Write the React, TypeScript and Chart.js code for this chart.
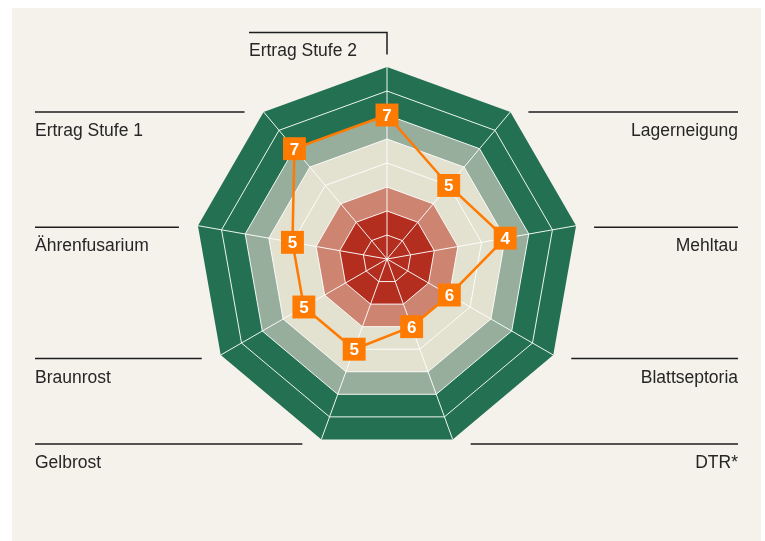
import React, { useEffect, useRef } from 'react';
import { Chart, registerables } from 'chart.js';

Chart.register(...registerables);

// ---- data ----
const categories = [
  'Ertrag Stufe 2',
  'Lagerneigung',
  'Mehltau',
  'Blattseptoria',
  'DTR*',
  'Gelbrost',
  'Braunrost',
  'Ährenfusarium',
  'Ertrag Stufe 1',
];
// scores printed in the squares
const scores = [7, 5, 4, 6, 6, 5, 5, 5, 7];
// disease / lodging axes are plotted inverted (low score = far out)
const invertedAxis = [false, true, true, true, true, true, true, true, false];
const scaleMin = 1;
const scaleMax = 9;
const ringLevels = [2, 3, 4, 5, 6, 7, 8];
const bandLevels = [3, 4, 6, 7, 9];
const bandColors = ['#B42E20', '#CD8571', '#E3E1CF', '#97AE9D', '#237152'];

const plotted = scores.map((v, i) => (invertedAxis[i] ? scaleMax + scaleMin - v : v));

// vertical nudge of the label rules relative to the outer vertex
const labelRuleNudge = [0, 0, 1.5, 3.5, 4.5, 4.5, 3.5, 1.5, 0];

const FONT = '"Liberation Sans", Arial, Helvetica, sans-serif';

const gridPlugin = {
  id: 'gridOverlay',
  beforeDatasetDraw(chart: any, args: any) {
    if (args.index !== 0) return;
    const r = chart.scales.r;
    const ctx = chart.ctx;
    const n = chart.data.labels.length;
    ctx.save();
    ctx.strokeStyle = 'rgba(255,255,255,0.92)';
    ctx.lineWidth = 1;
    ringLevels.forEach((level) => {
      ctx.beginPath();
      for (let i = 0; i < n; i++) {
        const p = r.getPointPositionForValue(i, level);
        if (i === 0) ctx.moveTo(p.x, p.y);
        else ctx.lineTo(p.x, p.y);
      }
      ctx.closePath();
      ctx.stroke();
    });
    for (let i = 0; i < n; i++) {
      const p = r.getPointPositionForValue(i, scaleMax);
      ctx.beginPath();
      ctx.moveTo(r.xCenter, r.yCenter);
      ctx.lineTo(p.x, p.y);
      ctx.stroke();
    }
    ctx.restore();
  },
};

const labelPlugin = {
  id: 'labelsOverlay',
  afterDatasetsDraw(chart: any) {
    const ctx = chart.ctx;
    const r = chart.scales.r;
    const meta = chart.getDatasetMeta(0);
    ctx.save();
    // numbers in squares
    ctx.fillStyle = '#FFFFFF';
    ctx.font = `bold 17px ${FONT}`;
    ctx.textAlign = 'center';
    ctx.textBaseline = 'alphabetic';
    meta.data.forEach((pt: any, i: number) => {
      ctx.fillText(String(scores[i]), pt.x, pt.y + 6);
    });

    // axis labels with rules
    ctx.strokeStyle = '#1E1E1E';
    ctx.fillStyle = '#262626';
    ctx.lineWidth = 1.5;
    ctx.font = `17.5px ${FONT}`;
    const leftX = 35;
    const rightX = 738;
    categories.forEach((label, i) => {
      const p = r.getPointPositionForValue(i, scaleMax);
      if (i === 0) {
        const ly = p.y - 34.5;
        const x0 = p.x - 138;
        ctx.beginPath();
        ctx.moveTo(x0, ly);
        ctx.lineTo(p.x, ly);
        ctx.lineTo(p.x, ly + 22);
        ctx.stroke();
        ctx.textAlign = 'left';
        ctx.fillText(label, x0, ly + 23);
      } else if (p.x > r.xCenter) {
        const ly = p.y + labelRuleNudge[i];
        ctx.beginPath();
        ctx.moveTo(p.x + 18, ly);
        ctx.lineTo(rightX, ly);
        ctx.stroke();
        ctx.textAlign = 'right';
        ctx.fillText(label, rightX, ly + 24);
      } else {
        const ly = p.y + labelRuleNudge[i];
        ctx.beginPath();
        ctx.moveTo(leftX, ly);
        ctx.lineTo(p.x - 19, ly);
        ctx.stroke();
        ctx.textAlign = 'left';
        ctx.fillText(label, leftX, ly + 24);
      }
    });
    ctx.restore();
  },
};

export default function App() {
  const canvasRef = useRef<HTMLCanvasElement | null>(null);

  useEffect(() => {
    if (!canvasRef.current) return;
    const bandDatasets = bandLevels.map((level, k) => ({
      label: `band${level}`,
      data: categories.map(() => level),
      backgroundColor: bandColors[k],
      borderWidth: 0,
      pointRadius: 0,
      fill: 'start',
    }));
    const chart = new Chart(canvasRef.current, {
      type: 'radar',
      data: {
        labels: categories,
        datasets: [
          {
            label: 'Sorte',
            data: plotted,
            borderColor: '#FF7A00',
            borderWidth: 2.5,
            fill: false,
            pointStyle: 'rect',
            pointRadius: 16.2,
            pointBackgroundColor: '#FF7A00',
            pointBorderWidth: 0,
          },
          ...bandDatasets,
        ],
      },
      options: {
        animation: false,
        responsive: false,
        layout: { padding: { left: 195, right: 186, top: 67, bottom: 90 } },
        plugins: {
          legend: { display: false },
          tooltip: { enabled: false },
        },
        elements: { line: { tension: 0 } },
        scales: {
          r: {
            min: scaleMin,
            max: scaleMax,
            ticks: { display: false, stepSize: 1 },
            grid: { display: false },
            angleLines: { display: false },
            pointLabels: { display: false },
          },
        },
      },
      plugins: [gridPlugin, labelPlugin],
    } as any);
    return () => chart.destroy();
  }, []);

  return (
    <div
      style={{
        position: 'absolute',
        left: 0,
        top: 0,
        width: 765,
        height: 541,
        background: '#FFFFFF',
        overflow: 'hidden',
      }}
    >
      <div
        style={{
          position: 'absolute',
          left: 12,
          top: 8,
          width: 749,
          height: 533,
          background: '#F5F2EC',
        }}
      />
      <canvas
        ref={canvasRef}
        width={765}
        height={541}
        style={{ position: 'absolute', left: 0, top: 0, width: 765, height: 541 }}
      />
    </div>
  );
}
